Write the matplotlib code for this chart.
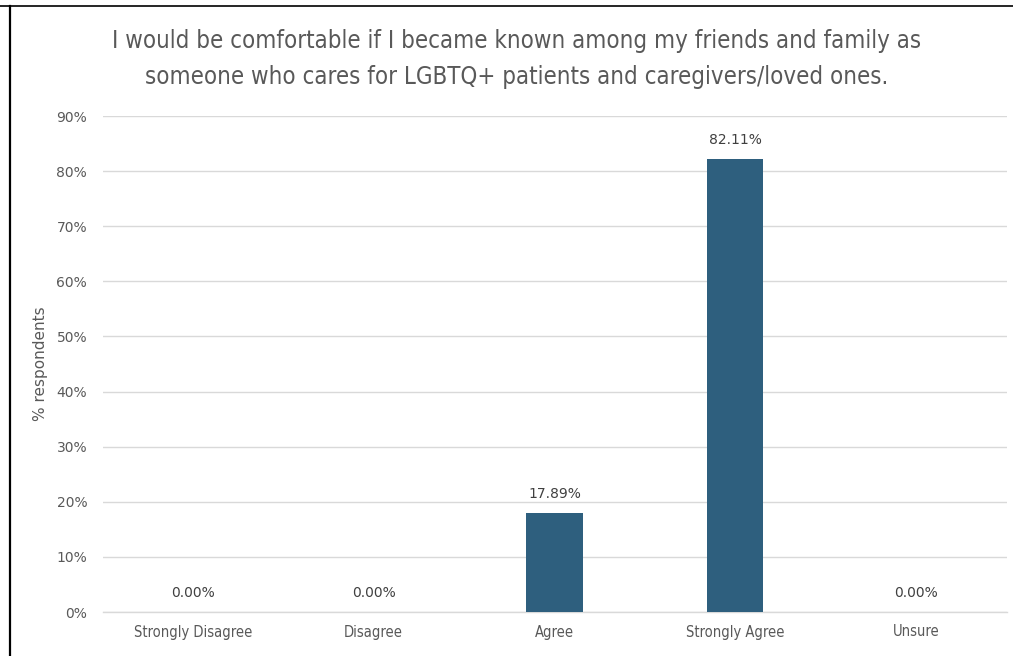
import matplotlib.pyplot as plt
from matplotlib.lines import Line2D

categories = ['Strongly Disagree', 'Disagree', 'Agree', 'Strongly Agree', 'Unsure']
percent = [0.00, 0.00, 17.89, 82.11, 0.00]
yticks = [0, 10, 20, 30, 40, 50, 60, 70, 80, 90]

title = ('I would be comfortable if I became known among my friends and family as\n'
         'someone who cares for LGBTQ+ patients and caregivers/loved ones.')

W, H = 1013, 656
fig = plt.figure(figsize=(W / 100, H / 100), dpi=100)
ax = fig.add_axes([102.5 / W, 1 - 612 / H, (1006.5 - 102.5) / W, (612 - 116) / H])

bar_color = '#2e5f7e'
grey = '#595959'
narrow = dict(family='DejaVu Sans', stretch='condensed')
x = range(len(categories))
ax.bar(x, percent, width=0.31, color=bar_color, zorder=3)

ax.set_xlim(-0.5, len(categories) - 0.5)
ax.set_ylim(0, 90)
ax.set_yticks(yticks)
ax.set_yticklabels(['{}%'.format(t) for t in yticks], fontsize=10, color=grey)
ax.set_xticks(list(x))
ax.set_xticklabels(categories, fontsize=10.5, color=grey, **narrow)
ax.tick_params(length=0, pad=11)
ax.tick_params(axis='x', pad=9)
ax.grid(axis='y', color='#d9d9d9', linewidth=1, zorder=0)
ax.axhline(0, color='#d9d9d9', linewidth=1, zorder=2, clip_on=False)
for s in ax.spines.values():
    s.set_visible(False)

for i, v in enumerate(percent):
    ax.text(i, v + 2.2, '{:.2f}%'.format(v), ha='center', va='bottom',
            fontsize=10, color='#404040')

ax.set_ylabel('% respondents', fontsize=11, color=grey, labelpad=6)

fig.text(517 / W, 1 - 59 / H, title, ha='center', va='center',
         fontsize=17.2, color=grey, linespacing=1.6, **narrow)

# frame edges of the surrounding box
fig.add_artist(Line2D([0, 1], [1 - 5.5 / H] * 2, color='black', lw=1.2, transform=fig.transFigure))
fig.add_artist(Line2D([9.5 / W] * 2, [0, 1 - 6 / H], color='black', lw=1.6, transform=fig.transFigure))

fig.savefig('out.png', dpi=100)
